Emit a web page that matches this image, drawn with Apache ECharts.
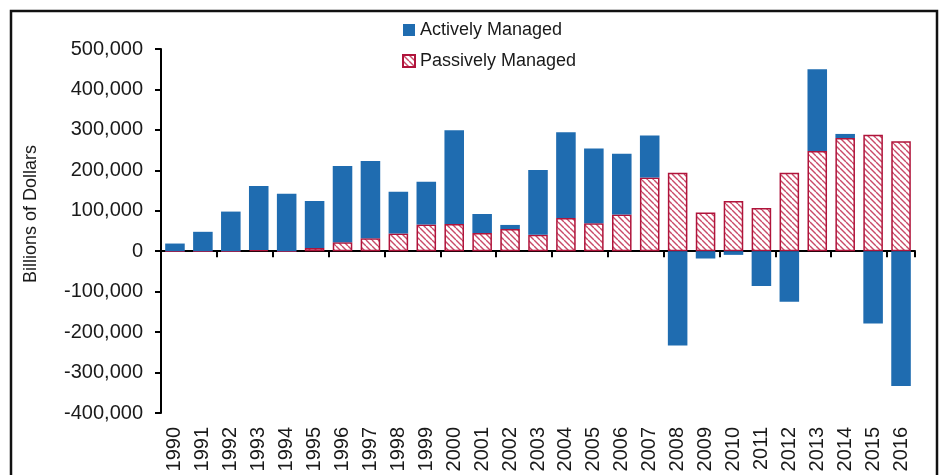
<!DOCTYPE html>
<html>
<head>
<meta charset="utf-8">
<script src="https://cdn.jsdelivr.net/npm/echarts@6/dist/echarts.min.js"></script>
<style>
  html, body { margin: 0; padding: 0; background: #fff; }
  #chart { width: 939px; height: 475px; }
</style>
</head>
<body>
<div id="chart"></div>
<script>
// 数据
var years = ['1990', '1991', '1992', '1993', '1994', '1995', '1996', '1997', '1998', '1999',
    '2000', '2001', '2002', '2003', '2004', '2005', '2006', '2007', '2008', '2009',
    '2010', '2011', '2012', '2013', '2014', '2015', '2016'];
var activeFlows = [19000, 48000, 98000, 158000, 142000, 116000, 189000, 191000, 103000, 106000,
    232000, 47000, 10000, 160000, 212000, 185000, 150000, 104000, -233000, -18000,
    -9000, -86000, -125000, 202000, 10000, -179000, -333000];
var passiveFlows = [0, 0, 0, 3000, 0, 8000, 22000, 32000, 44000, 66000,
    67000, 45000, 55000, 41000, 82000, 69000, 91000, 182000, 194000, 96000,
    124000, 107000, 194000, 248000, 280000, 288000, 272000];

// 斜线填充
function hatch() {
    var c = document.createElement('canvas');
    c.width = 6;
    c.height = 6;
    var ctx = c.getContext('2d');
    ctx.fillStyle = '#ffffff';
    ctx.fillRect(0, 0, 6, 6);
    ctx.strokeStyle = '#c94a68';
    ctx.lineWidth = 1.4;
    [-6, 0, 6].forEach(function (k) {
        ctx.beginPath();
        ctx.moveTo(k, 0);
        ctx.lineTo(k + 6, 6);
        ctx.stroke();
    });
    return c;
}

var font = '"Liberation Sans", Arial, sans-serif';
var chart = echarts.init(document.getElementById('chart'), null, { renderer: 'canvas' });

var option = {
    animation: false,
    textStyle: { fontFamily: font, color: '#1a1a1a' },
    grid: { left: 161, right: 24, top: 49, bottom: 62 },
    legend: {
        data: ['Actively Managed', 'Passively Managed'],
        orient: 'vertical',
        icon: 'rect',
        left: 397,
        top: 16,
        itemWidth: 12,
        itemHeight: 12,
        itemGap: 13,
        textStyle: { fontSize: 18, color: '#1a1a1a', fontFamily: font }
    },
    graphic: [
        {
            type: 'rect',
            shape: { x: 11, y: 11, width: 926, height: 480 },
            style: { fill: 'none', stroke: '#111', lineWidth: 2.5 },
            silent: true
        },
        {
            type: 'text',
            x: 31,
            y: 214,
            rotation: Math.PI / 2,
            style: {
                text: 'Billions of Dollars',
                font: '18px ' + font,
                fill: '#1a1a1a',
                align: 'center',
                verticalAlign: 'middle'
            }
        }
    ],
    xAxis: [
        {
            type: 'category',
            data: years,
            axisLine: { onZero: true, lineStyle: { color: '#000', width: 2 } },
            axisTick: { show: true, length: 6, lineStyle: { color: '#000', width: 2 } },
            axisLabel: { show: false }
        },
        {
            type: 'category',
            data: years,
            position: 'bottom',
            axisLine: { show: false, onZero: false },
            axisTick: { show: false },
            axisLabel: { rotate: 90, margin: 14, fontSize: 20, color: '#1a1a1a', fontFamily: font, interval: 0 }
        }
    ],
    yAxis: {
        type: 'value',
        min: -400000,
        max: 500000,
        interval: 100000,
        splitLine: { show: false },
        axisLine: { show: true, lineStyle: { color: '#000', width: 2 } },
        axisTick: { show: true, length: 6, lineStyle: { color: '#000', width: 2 } },
        axisLabel: {
            margin: 18,
            fontSize: 20,
            color: '#1a1a1a',
            fontFamily: font,
            formatter: function (v) {
                return v.toLocaleString('en-US');
            }
        }
    },
    series: [
        {
            name: 'Passively Managed',
            type: 'bar',
            stack: 'flows',
            barWidth: '70%',
            data: passiveFlows,
            itemStyle: {
                color: { image: hatch(), repeat: 'repeat' },
                borderColor: '#b0143b',
                borderWidth: 1.5
            }
        },
        {
            name: 'Actively Managed',
            type: 'bar',
            stack: 'flows',
            barWidth: '70%',
            data: activeFlows,
            itemStyle: { color: '#1f6cb0' }
        }
    ]
};

chart.setOption(option);
</script>
</body>
</html>
